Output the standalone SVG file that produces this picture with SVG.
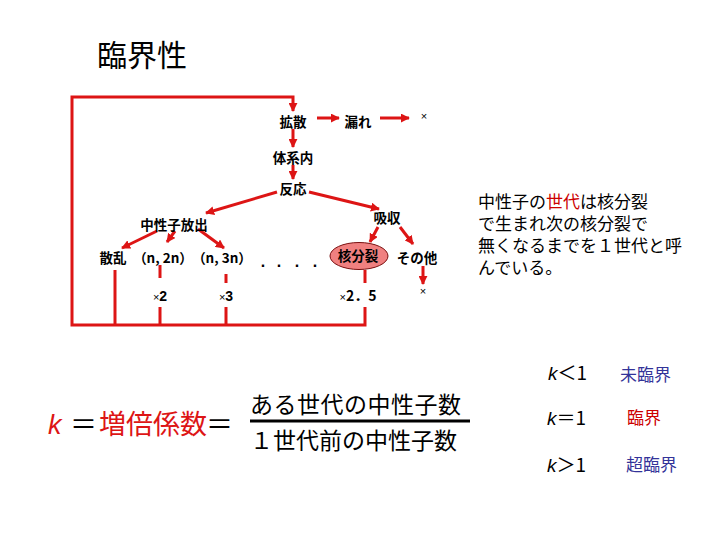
<svg xmlns="http://www.w3.org/2000/svg" width="720" height="540" viewBox="0 0 720 540">
<defs>
<marker id="ah" viewBox="0 0 10 10" refX="9" refY="5" markerWidth="3" markerHeight="3" orient="auto" markerUnits="strokeWidth">
<path d="M0,0 L10,5 L0,10 Z" fill="#dd1515"/>
</marker>
</defs>
<style>
.jp{font-family:"Noto Sans CJK JP","Noto Sans",sans-serif}
.lb{font-family:"Noto Sans CJK JP",sans-serif;font-size:13.5px;font-weight:bold;fill:#000;text-anchor:middle}
.x{font-family:"Liberation Sans",sans-serif;font-size:11px;fill:#000;text-anchor:middle}
.c{fill:none;stroke:#dd1515;stroke-width:3}
.a{marker-end:url(#ah)}
.p{font-family:"Noto Sans CJK JP",sans-serif;font-size:17px;fill:#000}
.k{font-family:"Liberation Sans",sans-serif;font-style:italic}
</style>
<rect width="720" height="540" fill="#fff"/>
<text x="97" y="66" class="jp" font-size="30" fill="#000">臨界性</text>

<g id="connectors">
<path class="c a" d="M365,307 V325 H72 V97 H293 V111"/>
<path class="c" d="M115,270 V325"/>
<path class="c" d="M160,265 V278 M160,307 V325"/>
<path class="c" d="M226,274 V283 M226,307 V325"/>
<path class="c" d="M365,270 V283"/>
<path class="c a" d="M317,118 H339"/>
<path class="c a" d="M380,118 H409"/>
<path class="c a" d="M293,129 V147"/>
<path class="c a" d="M293,165 V179"/>
<path class="c a" d="M277,192 L206,213"/>
<path class="c a" d="M309,192 L379,209"/>
<path class="c a" d="M157,231 L122,248"/>
<path class="c a" d="M175,231 L167,242"/>
<path class="c a" d="M198,229 L224,248"/>
<path class="c a" d="M378,227 L370,242"/>
<path class="c a" d="M400,227 L413,244"/>
<path class="c a" d="M423,266 V284"/>
</g>

<g id="n-kakusan"><text x="293" y="127" class="lb">拡散</text></g>
<g id="n-more"><text x="358" y="127" class="lb">漏れ</text></g>
<g id="n-x1"><text x="424" y="120" class="x">×</text></g>
<g id="n-taikei"><text x="293" y="163" class="lb">体系内</text></g>
<g id="n-hannou"><text x="293" y="194" class="lb">反応</text></g>
<g id="n-houshutsu"><text x="174" y="230" class="lb">中性子放出</text></g>
<g id="n-kyushu"><text x="387" y="223" class="lb">吸収</text></g>
<g id="n-sanran"><text x="113" y="263" class="lb">散乱</text></g>
<g id="n-n2n"><text x="163" y="263" class="lb">（n, 2n）</text></g>
<g id="n-n3n"><text x="222" y="263" class="lb">（n, 3n）</text></g>
<g id="n-dots"><text x="263 279 297 315" y="267" font-family="Liberation Sans,sans-serif" font-weight="bold" font-size="16" text-anchor="middle" fill="#000">....</text></g>
<g id="n-kakubunretsu">
<ellipse cx="359" cy="256" rx="29" ry="13.5" fill="#f08080" stroke="#7a1010" stroke-width="1"/>
<text x="358" y="261" class="lb">核分裂</text>
</g>
<g id="n-sonota"><text x="417" y="263" class="lb">その他</text></g>
<g id="n-x2"><text x="160" y="301" class="x">×<tspan font-weight="bold" font-size="14">2</tspan></text></g>
<g id="n-x3"><text x="226" y="301" class="x">×<tspan font-weight="bold" font-size="14">3</tspan></text></g>
<g id="n-x25"><text x="358" y="301" class="x">×<tspan font-weight="bold" font-size="14" font-family="Noto Sans CJK JP,sans-serif">2．5</tspan></text></g>
<g id="n-x4"><text x="423" y="295" class="x">×</text></g>

<g id="note">
<text x="478" y="208" class="p">中性子の<tspan fill="#cc0000">世代</tspan>は核分裂</text>
<text x="478" y="230" class="p">で生まれ次の核分裂で</text>
<text x="478" y="252" class="p">無くなるまでを１世代と呼</text>
<text x="478" y="274" class="p">んでいる。</text>
</g>

<g id="formula">
<text x="48" y="434" class="k" font-size="27" fill="#dd1515">k</text>
<text x="70" y="434" class="jp" font-size="27" fill="#000">＝</text>
<text x="99" y="434" class="jp" font-size="27" fill="#dd1515" textLength="108">増倍係数</text>
<text x="206" y="434" class="jp" font-size="27" fill="#000">＝</text>
<text x="250" y="413" class="jp" font-size="23" fill="#000" textLength="211">ある世代の中性子数</text>
<path d="M250,421 H470" stroke="#000" stroke-width="3"/>
<text x="250" y="449" class="jp" font-size="23" fill="#000" textLength="207">１世代前の中性子数</text>
</g>

<g id="cases">
<text x="548" y="380" font-size="19" fill="#000"><tspan class="k">k</tspan><tspan class="jp">＜1</tspan></text>
<text x="620" y="381" class="jp" font-size="17" fill="#333399">未臨界</text>
<text x="547" y="425" font-size="19" fill="#000"><tspan class="k">k</tspan><tspan class="jp">＝1</tspan></text>
<text x="627" y="424" class="jp" font-size="17" fill="#cc0000">臨界</text>
<text x="547" y="472" font-size="19" fill="#000"><tspan class="k">k</tspan><tspan class="jp">＞1</tspan></text>
<text x="626" y="471" class="jp" font-size="17" fill="#333399">超臨界</text>
</g>
</svg>
